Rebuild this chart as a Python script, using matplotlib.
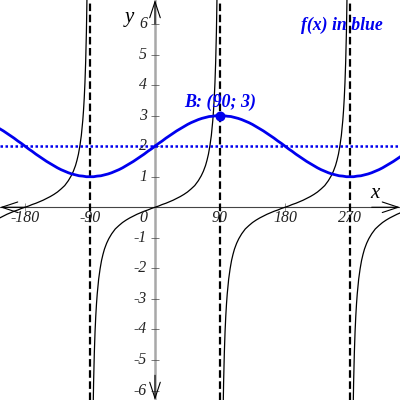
import numpy as np
import matplotlib
matplotlib.use("Agg")
import matplotlib.pyplot as plt

plt.rcParams['font.family'] = ['Liberation Serif', 'DejaVu Serif']

# Valores
x_ticks = [-180, -90, 90, 180, 270]
x_tick_labels = ['-180', '-90', '90', '180', '270']
y_ticks = [-6, -5, -4, -3, -2, -1, 1, 2, 3, 4, 5, 6]
asymptotes = [-90, 90, 270]
h_line = 2
point_b = (90, 3)

# curva azul, um periodo (repetido para a esquerda)
blue_x = [0, 5, 10, 15, 20, 25, 30, 35, 40, 45, 50, 55, 60, 65, 70, 75, 80, 85, 90,
          95, 100, 105, 110, 115, 120, 125, 130, 135, 140, 145, 150, 155, 160, 165, 170, 175, 180,
          185, 190, 195, 200, 205, 210, 215, 220, 225, 230, 235, 240, 245, 250, 255, 260, 265, 270,
          275, 280, 285, 290, 295, 300, 305, 310, 315, 320, 325, 330, 335, 340, 345, 350, 355, 360]
blue_y = [2.00, 2.09, 2.17, 2.26, 2.34, 2.42, 2.50, 2.57, 2.64, 2.71, 2.77, 2.82, 2.87, 2.91, 2.94, 2.97, 2.98, 3.00, 3.00,
          3.00, 2.98, 2.97, 2.94, 2.91, 2.87, 2.82, 2.77, 2.71, 2.64, 2.57, 2.50, 2.42, 2.34, 2.26, 2.17, 2.09, 2.00,
          1.91, 1.83, 1.74, 1.66, 1.58, 1.50, 1.43, 1.36, 1.29, 1.23, 1.18, 1.13, 1.09, 1.06, 1.03, 1.02, 1.00, 1.00,
          1.00, 1.02, 1.03, 1.06, 1.09, 1.13, 1.18, 1.23, 1.29, 1.36, 1.43, 1.50, 1.58, 1.66, 1.74, 1.83, 1.91, 2.00]

# curva preta, um ramo entre duas assintotas
black_x = [-86.5, -86, -85.5, -85, -84, -83, -82, -81, -80, -78, -76, -74, -72, -70, -67, -64, -60, -55, -50,
           -45, -40, -35, -30, -25, -20, -15, -10, -5, 0,
           5, 10, 15, 20, 25, 30, 35, 40, 45, 50, 55, 60, 64, 67, 70, 72, 74, 76, 78, 80, 81, 82, 83, 84, 85, 85.5, 86, 86.5]
black_y = [-8.17, -7.15, -6.39, -5.72, -4.76, -4.07, -3.56, -3.16, -2.84, -2.35, -2.01, -1.74, -1.54, -1.37, -1.18, -1.03, -0.87, -0.71, -0.60,
           -0.50, -0.42, -0.35, -0.29, -0.23, -0.18, -0.13, -0.09, -0.04, 0.00,
           0.04, 0.09, 0.13, 0.18, 0.23, 0.29, 0.35, 0.42, 0.50, 0.60, 0.71, 0.87, 1.03, 1.18, 1.37, 1.54, 1.74, 2.01, 2.35, 2.84, 3.16, 3.56, 4.07, 4.76, 5.72, 6.39, 7.15, 8.17]
black_centers = [-180, 0, 180, 360]

fig = plt.figure(figsize=(4, 4), dpi=100)
ax = fig.add_axes([0, 0, 1, 1])
ax.set_xlim(-214.6, 339.2)
ax.set_ylim(-6.31, 6.785)
ax.axis('off')

# eixos
ax.axvline(0, color='#a8a8a8', lw=1.8, zorder=1)
ax.axhline(0, color='#444444', lw=0.8, zorder=1)
ax.plot(x_ticks, [0] * len(x_ticks), ls='none', marker='|', ms=6, mew=0.4, color='#444444', zorder=1)
ax.plot([0] * len(y_ticks), y_ticks, ls='none', marker='_', ms=6, mew=0.5, color='#444444', zorder=1)

arrow = dict(arrowstyle='->,head_length=11.5,head_width=3.8', mutation_scale=1, color='black',
             lw=0.8, shrinkA=0, shrinkB=0)
ax.annotate('', xy=(0, 6.785), xytext=(0, 6), arrowprops=arrow)
ax.annotate('', xy=(0, -6.31), xytext=(0, -5.5), arrowprops=arrow)
ax.annotate('', xy=(339.2, 0), xytext=(300, 0), arrowprops=arrow)
ax.annotate('', xy=(-214.6, 0), xytext=(-180, 0), arrowprops=arrow)

# assintotas e reta pontilhada
for a in asymptotes:
    ax.axvline(a, color='black', lw=1.6, ls=(0, (3.4, 1.6)), zorder=2)
ax.axhline(h_line, color='#0000ee', lw=1.8, ls=(0, (1, 1)), zorder=2)

# curvas
for c in black_centers:
    ax.plot(np.array(black_x) + c, black_y, color='black', lw=0.9, zorder=3)
for shift in [-360, 0]:
    ax.plot(np.array(blue_x) + shift, blue_y, color='#0000ee', lw=2.0, zorder=4)
ax.plot(*point_b, 'o', color='#0000ee', ms=7.2, mew=0, zorder=5)

# textos
for t, lab in zip(x_ticks, x_tick_labels):
    ax.text(t, -0.36, lab, ha='center', va='center', style='italic', fontsize=11.4, color='#222222', zorder=6)
for t in y_ticks:
    ax.text(-11, t, str(t), ha='right', va='center', style='italic', fontsize=11.4, color='#222222', zorder=6)
ax.text(-11, -0.36, '0', ha='right', va='center', style='italic', fontsize=11.4, color='#222222', zorder=6)
ax.text(-36, 6.22, 'y', ha='center', va='center', style='italic', fontsize=15, zorder=6)
ax.text(304, 0.45, 'x', ha='center', va='center', style='italic', fontsize=15, zorder=6)
ax.text(40, 3.45, 'B: (90; 3)', ha='left', va='center', style='italic', weight='bold',
        fontsize=13, color='#0000ee', zorder=6)
ax.text(202, 5.95, 'f(x) in blue', ha='left', va='center', style='italic', weight='bold',
        fontsize=12.8, color='#0000ee', zorder=6)

fig.savefig('out.png', dpi=100)
